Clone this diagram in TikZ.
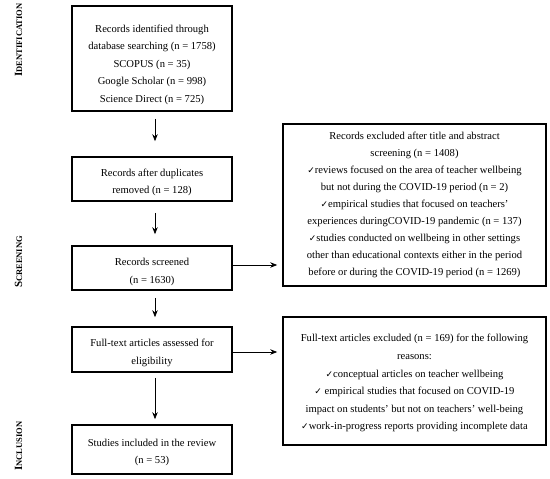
\documentclass[tikz,border=0pt]{standalone}
\usepackage{fontspec}
\setmainfont{Liberation Serif}
\newfontfamily\chkfont{DejaVu Sans}
\usetikzlibrary{arrows.meta}
\newcommand{\ck}{{\chkfont\fontsize{9}{9}\selectfont ✓}}
\newcommand{\dn}[1]{\rule{0pt}{#1pt}}
\newcommand{\sidelab}[2]{\textbf{{\fontsize{11}{11}\selectfont #1}{\fontsize{8.5}{8.5}\selectfont #2}}}
\tikzset{
  box/.style={draw=black, line width=1.6pt, align=center, inner sep=2pt,
    font=\fontsize{10.6}{17.6}\selectfont},
  arr/.style={line width=0.8pt, -{Stealth[length=7pt,width=5.5pt]}},
  side/.style={rotate=90, inner sep=0pt}
}
\begin{document}
\begin{tikzpicture}[x=1pt,y=-1pt]
\useasboundingbox (0,0) rectangle (550,479);
% left column
\node[box, minimum width=160pt, minimum height=105pt] (b1) at (152,58.5)
  {\dn{20}Records identified through\\database searching (n = 1758)\\SCOPUS (n = 35)\\Google Scholar (n = 998)\\Science Direct (n = 725)};
\node[box, minimum width=160pt, minimum height=44pt] (b2) at (152,179)
  {\dn{14}Records after duplicates\\removed (n = 128)};
\node[box, minimum width=160pt, minimum height=44pt] (b3) at (152,268)
  {\dn{15}Records screened\\(n = 1630)};
\node[box, minimum width=160pt, minimum height=45pt] (b4) at (152,349.5)
  {\dn{14}Full-text articles assessed for\\eligibility};
\node[box, minimum width=160pt, minimum height=49pt] (b5) at (152,449.5)
  {\dn{13}Studies included in the review\\(n = 53)};
% right column
\node[box, minimum width=263pt, minimum height=162pt, font=\fontsize{10.6}{17.1}\selectfont] (ra) at (414.5,205)
  {Records excluded after title and abstract\\screening (n = 1408)\\
   \ck reviews focused on the area of teacher wellbeing\\
   but not during the COVID-19 period (n = 2)\\
   \ck empirical studies that focused on teachers'\\
   experiences duringCOVID-19 pandemic (n = 137)\\
   \ck studies conducted on wellbeing in other settings\\
   other than educational contexts either in the period\\
   before or during the COVID-19 period (n = 1269)};
\node[box, minimum width=263pt, minimum height=128pt] (rb) at (414.5,381)
  {\dn{12}Full-text articles excluded (n = 169) for the following\\reasons:\\
   \ck conceptual articles on teacher wellbeing\\
   \ck{} empirical studies that focused on COVID-19\\
   impact on students' but not on teachers' well-being\\
   \ck work-in-progress reports providing incomplete data};
% side labels
\node[side] (l1) at (18.5,40) {\sidelab{I}{DENTIFICATION}};
\node[side] (l2) at (18.5,262) {\sidelab{S}{CREENING}};
\node[side] (l3) at (18.5,446) {\sidelab{I}{NCLUSION}};
% arrows
\draw[arr] ([xshift=3pt,yshift=-7pt]b1.south) -- ([xshift=3pt,yshift=15pt]b2.north);
\draw[arr] ([xshift=3pt,yshift=-11pt]b2.south) -- ([xshift=3pt,yshift=11pt]b3.north);
\draw[arr] ([xshift=3pt,yshift=-7pt]b3.south) -- ([xshift=3pt,yshift=9pt]b4.north);
\draw[arr] ([xshift=3pt,yshift=-5pt]b4.south) -- ([xshift=3pt,yshift=5pt]b5.north);
\draw[arr, shorten >=5pt] ([yshift=3pt]b3.east) -- ([yshift=3pt]b3.east -| ra.west);
\draw[arr, shorten >=5pt] ([yshift=-2.5pt]b4.east) -- ([yshift=-2.5pt]b4.east -| rb.west);
\end{tikzpicture}
\end{document}
